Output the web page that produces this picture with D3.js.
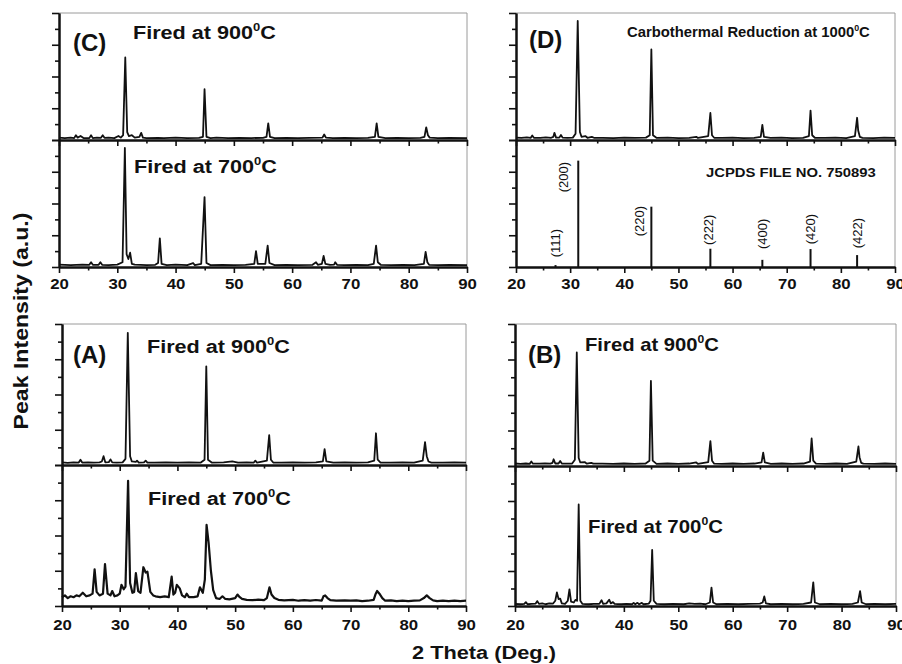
<!DOCTYPE html>
<html>
<head>
<meta charset="utf-8">
<script src="https://cdn.jsdelivr.net/npm/d3@7"></script>
<style>
  body { margin: 0; background: #fff; }
  text { font-family: "Liberation Sans", Arial, sans-serif; fill: #111; }
</style>
</head>
<body>
<div id="chart"></div>
<script>
// 2 theta tick values
var xMajorTicks = [20, 30, 40, 50, 60, 70, 80, 90];
var xMinorTicks = [25, 35, 45, 55, 65, 75, 85];

// Panel C, fired at 900 C  [2theta, intensity]
var c900 = [[20,0.15],[21,0.12],[22,0.15],[22.6,0.12],[22.9,0.3],[23.2,0.15],[23.7,0.25],[24.2,0.12],[25.2,0.12],[25.5,0.3],[25.8,0.12],[26.5,0.15],[27.2,0.14],[27.5,0.3],[27.8,0.14],[28.5,0.15],[29.5,0.12],[30.2,0.25],[30.6,0.15],[31.0,0.3],[31.37,5.2],[31.7,0.5],[32.0,0.25],[32.5,0.3],[33.0,0.15],[33.8,0.2],[34.1,0.45],[34.4,0.15],[35,0.12],[37,0.14],[38,0.12],[40,0.15],[42,0.12],[44,0.14],[44.7,0.2],[44.97,3.2],[45.3,0.2],[46,0.12],[47,0.15],[49,0.12],[51,0.14],[53,0.12],[55,0.14],[55.6,0.2],[55.9,1.05],[56.2,0.2],[57,0.12],[59,0.14],[61,0.12],[63,0.14],[65.2,0.15],[65.5,0.35],[65.8,0.15],[67,0.12],[69,0.14],[71,0.12],[73,0.14],[74.2,0.2],[74.5,1.05],[74.8,0.2],[76,0.12],[78,0.14],[80,0.12],[82,0.14],[82.7,0.2],[83.0,0.8],[83.3,0.3],[83.6,0.15],[85,0.12],[87,0.14],[90,0.12]];

// Panel C, fired at 700 C
var c700 = [[20,0.15],[22,0.12],[24,0.15],[25.2,0.14],[25.5,0.3],[25.8,0.14],[26.8,0.14],[27.1,0.3],[27.4,0.14],[28.5,0.12],[30,0.15],[30.9,0.3],[31.3,7.5],[31.6,0.8],[31.9,0.5],[32.2,0.9],[32.5,0.2],[33,0.15],[35,0.12],[36.5,0.14],[37.0,0.25],[37.3,1.8],[37.6,0.2],[38.5,0.12],[40,0.15],[42,0.12],[43,0.25],[43.3,0.12],[44.4,0.2],[44.97,4.4],[45.3,0.25],[46,0.12],[48,0.14],[50,0.12],[52,0.14],[53.5,0.2],[53.8,1.0],[54.1,0.2],[55.4,0.2],[55.8,1.35],[56.1,0.25],[57,0.12],[59,0.14],[61,0.12],[63.5,0.14],[64.1,0.3],[64.4,0.14],[65.1,0.2],[65.4,0.7],[65.7,0.2],[66.5,0.14],[67.2,0.15],[67.4,0.3],[67.7,0.14],[69,0.12],[71,0.14],[73,0.12],[74.0,0.2],[74.4,1.35],[74.7,0.3],[75.2,0.14],[77,0.12],[79,0.14],[81,0.12],[82.6,0.2],[82.9,0.95],[83.2,0.3],[83.5,0.14],[85,0.12],[87,0.14],[90,0.12]];

// Panel D, carbothermal reduction at 1000 C
var d1000 = [[20,0.15],[21,0.13],[22,0.16],[22.7,0.13],[23.0,0.28],[23.3,0.14],[24.5,0.14],[25.5,0.16],[26.5,0.14],[26.9,0.2],[27.1,0.45],[27.4,0.15],[28,0.15],[28.3,0.32],[28.6,0.15],[29.5,0.14],[30.5,0.15],[31.0,0.4],[31.4,7.5],[31.8,0.5],[32.1,0.2],[32.8,0.25],[33.2,0.14],[34.0,0.2],[34.4,0.14],[36,0.14],[38,0.12],[40,0.15],[42,0.13],[44,0.15],[44.7,0.3],[45.0,5.7],[45.3,0.3],[46,0.13],[48,0.15],[50,0.12],[52,0.14],[53.3,0.2],[53.6,0.13],[55.5,0.25],[55.9,1.7],[56.2,0.3],[56.6,0.14],[58,0.13],[60,0.15],[62,0.12],[64,0.14],[65.2,0.2],[65.5,0.95],[65.8,0.2],[67,0.13],[69,0.15],[71,0.12],[73,0.14],[74.1,0.25],[74.4,1.85],[74.7,0.3],[75.2,0.14],[77,0.13],[79,0.15],[81,0.12],[82.6,0.25],[83.0,1.4],[83.2,0.6],[83.5,0.2],[84,0.14],[86,0.12],[88,0.15],[90,0.13]];

// Panel D, JCPDS 750893 reference lines
var hklNames = ["(111)", "(200)", "(220)", "(222)", "(400)", "(420)", "(422)"];
var hklPositions = [27.3, 31.5, 45.0, 55.9, 65.5, 74.4, 83.0];
var hklHeights = [0.12, 6.7, 3.8, 1.15, 0.45, 1.13, 0.75];

// Panel A, fired at 900 C
var a900 = [[20,0.15],[21,0.12],[22,0.15],[22.9,0.14],[23.2,0.3],[23.5,0.14],[24.5,0.15],[25.5,0.13],[26.5,0.15],[26.9,0.2],[27.2,0.5],[27.5,0.15],[28.1,0.16],[28.4,0.32],[28.7,0.15],[29.5,0.14],[30.5,0.15],[31.0,0.35],[31.4,7.5],[31.8,0.5],[32.1,0.2],[32.8,0.18],[33.0,0.25],[33.3,0.14],[34.2,0.15],[34.5,0.25],[34.8,0.14],[36,0.13],[38,0.15],[40,0.13],[42,0.15],[44,0.13],[44.7,0.3],[45.0,5.6],[45.3,0.3],[46,0.13],[48,0.15],[49.5,0.2],[50.5,0.13],[52,0.15],[53.2,0.13],[53.5,0.25],[53.8,0.13],[55.5,0.25],[55.9,1.7],[56.2,0.3],[56.6,0.14],[58,0.13],[60,0.15],[62,0.13],[64,0.15],[65.2,0.2],[65.5,0.9],[65.8,0.2],[67,0.13],[69,0.15],[71,0.13],[73,0.15],[74.1,0.25],[74.4,1.8],[74.7,0.3],[75.2,0.14],[77,0.13],[79,0.15],[81,0.13],[82.5,0.25],[82.9,1.3],[83.2,0.5],[83.5,0.2],[84,0.14],[86,0.13],[88,0.15],[90,0.13]];

// Panel A, fired at 700 C
var a700 = [[20,0.5],[20.5,0.6],[21,0.45],[21.5,0.55],[22,0.5],[22.5,0.6],[23,0.55],[23.6,0.75],[24.2,0.55],[24.8,0.6],[25.3,0.7],[25.65,2.08],[26.0,0.8],[26.5,0.6],[27.1,0.7],[27.45,2.38],[27.9,0.7],[28.4,0.6],[28.7,0.85],[29.1,0.55],[29.6,0.6],[30.0,0.7],[30.3,1.2],[30.7,0.95],[31.0,1.1],[31.45,7.1],[31.8,1.3],[32.2,0.75],[32.5,0.8],[32.8,1.86],[33.2,0.85],[33.6,0.75],[34.1,2.2],[34.5,1.9],[34.8,1.95],[35.3,0.8],[35.8,0.6],[36.2,0.55],[37,0.5],[37.8,0.55],[38.5,0.5],[39.0,1.67],[39.3,0.65],[39.6,0.75],[39.9,1.2],[40.4,1.0],[40.8,0.6],[41.3,0.5],[41.6,0.7],[42,0.5],[42.8,0.5],[43.5,0.55],[43.9,1.06],[44.4,0.75],[44.75,1.5],[45.05,4.6],[45.4,3.6],[45.8,2.0],[46.2,0.9],[46.7,0.45],[47.3,0.4],[47.8,0.55],[48.3,0.4],[49,0.38],[50,0.45],[50.4,0.65],[50.8,0.5],[51.2,0.4],[52,0.35],[53,0.33],[54,0.36],[55,0.33],[55.5,0.45],[55.95,1.06],[56.3,0.65],[56.8,0.45],[57.5,0.35],[58.5,0.32],[60,0.35],[61,0.3],[62,0.33],[63,0.3],[64,0.34],[65,0.3],[65.3,0.55],[65.6,0.6],[66,0.45],[66.5,0.33],[67.5,0.3],[69,0.32],[70,0.3],[71,0.32],[72,0.28],[73,0.3],[74,0.35],[74.3,0.65],[74.6,0.85],[75,0.7],[75.5,0.45],[76,0.3],[77,0.32],[78,0.28],[79,0.3],[80,0.28],[81,0.3],[82,0.32],[82.7,0.45],[83.2,0.6],[83.7,0.45],[84.3,0.32],[85,0.28],[86,0.3],[87,0.28],[88,0.3],[89,0.28],[90,0.3]];

// Panel B, fired at 900 C
var b900 = [[20,0.14],[21,0.12],[22,0.14],[22.7,0.12],[23.0,0.25],[23.3,0.13],[24.5,0.13],[25.5,0.15],[26.5,0.13],[26.9,0.18],[27.1,0.38],[27.4,0.14],[28,0.14],[28.3,0.28],[28.6,0.14],[29.5,0.13],[30.5,0.14],[31.0,0.35],[31.35,6.4],[31.7,0.45],[32.0,0.2],[32.8,0.22],[33.2,0.13],[34.0,0.18],[34.4,0.13],[36,0.13],[38,0.12],[40,0.14],[42,0.12],[44,0.14],[44.7,0.3],[44.97,4.8],[45.3,0.3],[46,0.12],[48,0.14],[50,0.12],[52,0.14],[53.3,0.2],[53.6,0.12],[55.5,0.22],[55.9,1.4],[56.2,0.3],[56.6,0.13],[58,0.12],[60,0.14],[62,0.12],[64,0.14],[65.3,0.2],[65.6,0.75],[65.9,0.2],[67,0.12],[69,0.14],[71,0.12],[73,0.14],[74.2,0.25],[74.5,1.55],[74.8,0.3],[75.3,0.13],[77,0.12],[79,0.14],[81,0.12],[82.7,0.25],[83.1,1.1],[83.3,0.5],[83.6,0.18],[84,0.13],[86,0.12],[88,0.14],[90,0.12]];

// Panel B, fired at 700 C
var b700 = [[20,0.12],[21,0.1],[21.7,0.12],[22.0,0.22],[22.3,0.1],[23,0.12],[23.8,0.14],[24.1,0.28],[24.4,0.12],[25,0.15],[25.6,0.1],[26.3,0.15],[27,0.14],[27.4,0.3],[27.7,0.78],[28.0,0.4],[28.3,0.42],[28.6,0.15],[29.2,0.12],[29.7,0.3],[30.0,0.95],[30.3,0.25],[30.8,0.2],[31.1,0.35],[31.4,0.3],[31.7,5.8],[32.0,0.3],[32.4,0.12],[33.5,0.1],[34.5,0.12],[35.5,0.12],[35.9,0.33],[36.2,0.12],[36.8,0.15],[37.3,0.36],[37.6,0.15],[38,0.22],[38.3,0.12],[39.5,0.1],[40.5,0.12],[41.5,0.1],[41.8,0.18],[42.1,0.1],[42.5,0.18],[42.8,0.1],[43.3,0.18],[43.6,0.1],[44.6,0.14],[44.9,0.3],[45.2,3.2],[45.5,0.3],[46,0.12],[47.5,0.1],[49,0.12],[51,0.1],[52,0.15],[53,0.12],[54,0.14],[55,0.1],[55.8,0.2],[56.1,1.05],[56.4,0.2],[57,0.1],[59,0.12],[61,0.1],[63,0.12],[65,0.14],[65.5,0.2],[65.8,0.55],[66.1,0.15],[67,0.1],[69,0.12],[71,0.1],[73,0.12],[74.4,0.2],[74.8,1.35],[75.1,0.2],[76,0.1],[78,0.12],[80,0.1],[82,0.12],[83.0,0.2],[83.4,0.85],[83.7,0.2],[84.5,0.1],[86,0.12],[88,0.1],[90,0.12]];

var svgWidth = 902;
var svgHeight = 664;

var svg = d3.select("#chart")
  .append("svg")
  .attr("width", svgWidth)
  .attr("height", svgHeight);

// panel frames (pixels)
var panels = [
  { tag: "(C)", left: 59, right: 467, top: 13, mid: 140, bottom: 267, upper: c900, lower: c700, labelY: 289 },
  { tag: "(D)", left: 516, right: 895, top: 13, mid: 140, bottom: 267, upper: d1000, lower: null, labelY: 289 },
  { tag: "(A)", left: 62, right: 466, top: 324, mid: 465, bottom: 606, upper: a900, lower: a700, labelY: 630 },
  { tag: "(B)", left: 515, right: 896, top: 324, mid: 466, bottom: 606, upper: b900, lower: b700, labelY: 630 }
];

// text that is stretched horizontally to a measured width
function wideText(x, y, parts, size, width) {
  var t = svg.append("text")
    .attr("font-size", size)
    .attr("font-weight", "bold");
  parts.forEach(function(p) {
    if (p.sup) {
      t.append("tspan").attr("font-size", size * 0.6).attr("dy", -size * 0.42).text(p.sup);
    } else {
      t.append("tspan").attr("dy", p.down ? size * 0.42 : 0).text(p.text);
    }
  });
  var w = t.node().getBBox().width;
  t.attr("transform", `translate(${x}, ${y}) scale(${width / w}, 1)`);
  return t;
}

function fired(temp) {
  return [{ text: "Fired at " + temp }, { sup: "0" }, { text: "C", down: true }];
}

var line = function(x, y) {
  return d3.line().x(d => x(d[0])).y(d => y(d[1]));
};

panels.forEach(function(p) {
  var x = d3.scaleLinear().domain([20, 90]).range([p.left, p.right]);
  var yU = d3.scaleLinear().domain([0, 8]).range([p.mid, p.top]);
  var yL = d3.scaleLinear().domain([0, 8]).range([p.bottom, p.mid]);
  var g = svg.append("g");

  // thin grey top and right border
  g.append("path")
    .attr("d", `M${p.left},${p.top}H${p.right}V${p.bottom}`)
    .attr("fill", "none")
    .attr("stroke", "#9a9a9a")
    .attr("stroke-width", 1);

  g.append("path")
    .datum(p.upper)
    .attr("d", line(x, yU))
    .attr("fill", "none")
    .attr("stroke", "#111")
    .attr("stroke-width", 1.8)
    .attr("stroke-linejoin", "round");

  if (p.lower) {
    g.append("path")
      .datum(p.lower)
      .attr("d", line(x, yL))
      .attr("fill", "none")
      .attr("stroke", "#111")
      .attr("stroke-width", p.tag === "(A)" ? 2.2 : 1.8)
      .attr("stroke-linejoin", "round");
  } else {
    // reference sticks
    g.selectAll(".stick")
      .data(hklPositions)
      .enter()
      .append("line")
      .attr("x1", d => x(d))
      .attr("x2", d => x(d))
      .attr("y1", yL(0))
      .attr("y2", (d, i) => yL(hklHeights[i]))
      .attr("stroke", "#111")
      .attr("stroke-width", 2);
  }

  // x axes: middle separator and bottom
  [p.mid, p.bottom].forEach(function(yy, k) {
    var major = g.append("g")
      .attr("transform", `translate(0, ${yy})`)
      .call(d3.axisBottom(x).tickValues(xMajorTicks).tickSize(6).tickSizeOuter(0)
        .tickFormat(k === 1 ? d3.format("d") : ""));
    var minor = g.append("g")
      .attr("transform", `translate(0, ${yy})`)
      .call(d3.axisBottom(x).tickValues(xMinorTicks).tickSize(3.5).tickSizeOuter(0).tickFormat(""));
    [major, minor].forEach(function(a) {
      a.select(".domain").attr("stroke", "#111").attr("stroke-width", 2);
      a.selectAll(".tick line").attr("stroke", "#111").attr("stroke-width", 1.6);
    });
    major.selectAll(".tick text")
      .attr("y", p.labelY - p.bottom)
      .attr("dy", 0)
      .attr("font-size", 14)
      .attr("font-weight", "bold")
      .attr("font-family", "Liberation Sans, Arial, sans-serif")
      .attr("fill", "#111")
      .attr("transform", "scale(1.2, 1)");
  });

  // y axes (no labels)
  [yU, yL].forEach(function(ys) {
    var maj = g.append("g")
      .attr("transform", `translate(${p.left}, 0)`)
      .call(d3.axisLeft(ys).tickValues([0, 2, 4, 6, 8]).tickSize(7).tickSizeOuter(0).tickFormat(""));
    var min = g.append("g")
      .attr("transform", `translate(${p.left}, 0)`)
      .call(d3.axisLeft(ys).tickValues([1, 3, 5, 7]).tickSize(4).tickSizeOuter(0).tickFormat(""));
    [maj, min].forEach(function(a) {
      a.select(".domain").attr("stroke", "#111").attr("stroke-width", 2);
      a.selectAll(".tick line").attr("stroke", "#111").attr("stroke-width", 1.6);
    });
  });

  p.x = x;
  p.yL = yL;
});

// panel letters
var tagPos = [[73, 51], [529, 48], [73, 363], [528, 363]];
panels.forEach(function(p, i) {
  svg.append("text")
    .attr("x", tagPos[i][0])
    .attr("y", tagPos[i][1])
    .attr("font-size", 24)
    .attr("font-weight", "bold")
    .text(p.tag);
});

// sample labels
wideText(133, 39, fired("900"), 18, 143);
wideText(134, 173, fired("700"), 18, 143);
wideText(147, 353, fired("900"), 18, 143);
wideText(148, 505, fired("700"), 18, 143);
wideText(585, 351, fired("900"), 18, 134);
wideText(588, 533, fired("700"), 18, 135);
wideText(627, 37, [{ text: "Carbothermal Reduction at 1000" }, { sup: "0" }, { text: "C", down: true }], 14, 243);
wideText(706, 177, [{ text: "JCPDS FILE NO. 750893" }], 13, 170);

// hkl labels, offsets from stick tops
var hklOffsets = [[0, -22], [-14.5, 16.5], [-12, 14.4], [-2, -19], [0, -26], [0, -20], [0, -22]];
var pd = panels[1];
svg.selectAll(".hkl")
  .data(hklNames)
  .enter()
  .append("text")
  .attr("font-size", 13)
  .attr("text-anchor", "middle")
  .attr("dominant-baseline", "central")
  .attr("transform", (d, i) => `translate(${pd.x(hklPositions[i]) + hklOffsets[i][0]}, ${pd.yL(hklHeights[i]) + hklOffsets[i][1]}) rotate(-90)`)
  .text(d => d);

// axis titles
var yTitle = svg.append("text")
  .attr("font-size", 21)
  .attr("font-weight", "bold")
  .attr("text-anchor", "middle")
  .text("Peak Intensity (a.u.)");
var yw = yTitle.node().getBBox().width;
yTitle.attr("transform", `translate(28, 321) rotate(-90) scale(${217 / yw}, 1)`);

wideText(412, 659, [{ text: "2 Theta (Deg.)" }], 18, 144);
</script>
</body>
</html>
